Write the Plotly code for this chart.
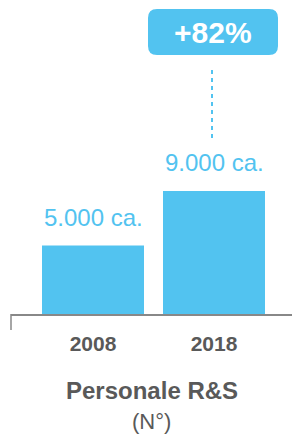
import plotly.graph_objects as go

categories = ["2008", "2018"]
values = [5000, 9000]
value_labels = ["5.000 ca.", "9.000 ca."]
growth_label = "+82%"
title_main = "Personale R&S"
title_sub = "(N°)"

BLUE = "#52C3F0"
GREY = "#595959"
FONT = "Liberation Sans, Arial, Helvetica, sans-serif"

W, H = 292, 434
ML, MR, MT, MB = 11, 0, 0, 120
plot_h = H - MT - MB  # 314
px_per_unit = 0.01368
ymax = plot_h / px_per_unit

x_pos = list(range(len(categories)))
step = 121.0
x0 = -(93 - ML) / step
x1 = (W - MR - 93) / step

def py(pix_from_top):
    return (plot_h - pix_from_top) / px_per_unit

def px(pix_from_left):
    return (pix_from_left - 93) / step

fig = go.Figure()
fig.add_trace(go.Bar(
    x=x_pos, y=values, marker=dict(color=BLUE, line=dict(width=0)),
    width=102 / step, hoverinfo="skip",
))

annotations = []
for xi, v, lab in zip(x_pos, values, value_labels):
    annotations.append(dict(x=xi, y=v, xref="x", yref="y", text=lab, showarrow=False,
                            yshift=28, font=dict(family=FONT, size=24, color=BLUE)))

bx0, bx1 = px(148), px(278)
by0, by1 = py(55), py(9)
rx, ry = 9 / step, 9 / px_per_unit
path = (f"M {bx0+rx},{by0} L {bx1-rx},{by0} Q {bx1},{by0} {bx1},{by0+ry} "
        f"L {bx1},{by1-ry} Q {bx1},{by1} {bx1-rx},{by1} L {bx0+rx},{by1} "
        f"Q {bx0},{by1} {bx0},{by1-ry} L {bx0},{by0+ry} Q {bx0},{by0} {bx0+rx},{by0} Z")
shapes = [
    dict(type="path", path=path, xref="x", yref="y", fillcolor=BLUE, line=dict(width=0), layer="above"),
    dict(type="line", xref="x", yref="y", x0=px(212), x1=px(212), y0=py(138), y1=py(66),
         line=dict(color=BLUE, width=2, dash="4px,4px")),
    dict(type="line", xref="paper", yref="paper", x0=0, x1=0, y0=0, y1=-16 / plot_h,
         line=dict(color="#888888", width=1.5)),
]
annotations.append(dict(x=(bx0 + bx1) / 2, y=(by0 + by1) / 2, xref="x", yref="y",
                        text=f"<b>{growth_label}</b>", showarrow=False,
                        xanchor="center", yanchor="middle",
                        font=dict(family=FONT, size=30, color="white")))
annotations.append(dict(x=0.5, y=-76 / plot_h, xref="paper", yref="paper",
                        xanchor="center", yanchor="middle",
                        text=f"<b>{title_main}</b>", showarrow=False,
                        font=dict(family=FONT, size=24, color=GREY)))
annotations.append(dict(x=0.5, y=-107 / plot_h, xref="paper", yref="paper",
                        xanchor="center", yanchor="middle",
                        text=title_sub, showarrow=False,
                        font=dict(family=FONT, size=22, color=GREY)))

fig.update_layout(
    width=W, height=H, margin=dict(l=ML, r=MR, t=MT, b=MB),
    paper_bgcolor="white", plot_bgcolor="white", showlegend=False,
    xaxis=dict(range=[x0, x1], tickmode="array", tickvals=x_pos,
               ticktext=[f"<b>{c}</b>" for c in categories],
               tickfont=dict(family=FONT, size=21, color=GREY),
               showgrid=False, zeroline=False, showline=True, linecolor="#888888", linewidth=1.5,
               ticks="", ticklabelstandoff=10, fixedrange=True),
    yaxis=dict(range=[0, ymax], visible=False, fixedrange=True),
    shapes=shapes, annotations=annotations,
)

fig.write_html("out.html", config={"displayModeBar": False},
               post_script="document.body.style.margin='0';document.body.style.padding='0';")
